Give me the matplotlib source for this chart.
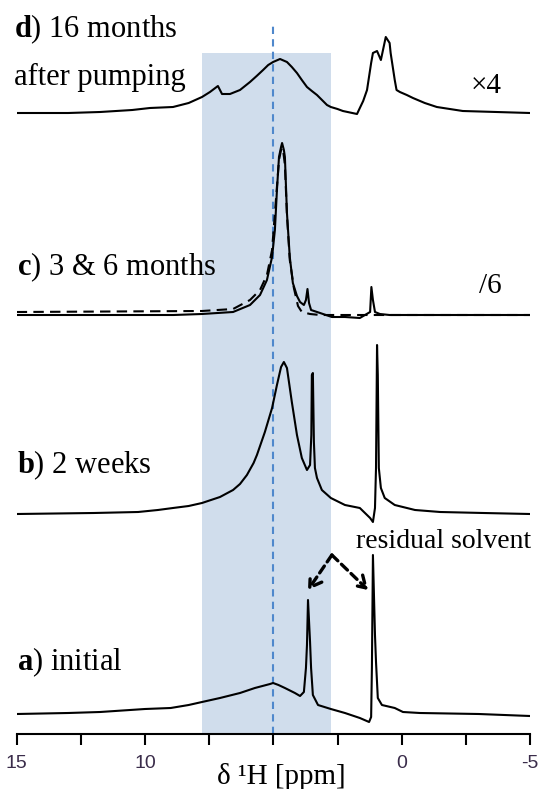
import numpy as np
from matplotlib import pyplot as plt

plt.rcParams['font.family'] = ['Liberation Serif', 'DejaVu Serif']
plt.rcParams['mathtext.fontset'] = 'custom'
plt.rcParams['mathtext.rm'] = 'Liberation Serif'
plt.rcParams['mathtext.bf'] = 'Liberation Serif:bold'

# spectra: chemical shift (ppm) and intensity (arb.)
a_ppm = [15.0, 13.0, 11.75, 10.0, 9.0, 8.3, 7.78, 7.08, 6.30, 5.72, 5.13, 5.01, 4.80, 4.55, 4.16,
         3.96, 3.81, 3.73, 3.69, 3.65, 3.57, 3.53, 3.46, 3.26, 2.76, 2.21, 1.63, 1.27, 1.19, 1.16,
         1.12, 1.04, 1.00, 0.93, 0.77, 0.27, -0.05, -0.71, -3.0, -5.0]
a_int = [-1, 0, 1, 4, 5, 8, 11, 15, 20, 25, 29, 30, 28, 25, 20,
         17, 21, 45, 68, 113, 71, 45, 18, 8, 4, 0, -5, -9, -4, 45,
         158, 78, 51, 15, 8, 5, 1, 0, -1, -3]

b_ppm = [15.0, 12.0, 10.27, 9.5, 8.91, 8.3, 7.78, 7.08, 6.57, 6.30, 6.03, 5.77, 5.64, 5.33, 5.05,
         4.86, 4.70, 4.59, 4.47, 4.28, 4.08, 3.89, 3.69, 3.57, 3.52, 3.50, 3.46, 3.42, 3.38, 3.30,
         3.11, 2.76, 2.21, 1.63, 1.23, 1.12, 1.04, 1.00, 0.96, 0.93, 0.89, 0.81, 0.66, 0.27, -0.52,
         -1.5, -3.19, -5.0]
b_int = [0, 1, 2, 4, 6, 8, 11, 17, 24, 30, 39, 51, 59, 82, 106,
         129, 147, 152, 146, 112, 79, 56, 44, 49, 79, 139, 141, 72, 46, 36,
         24, 16, 9, 6, -4, -8, 6, 46, 169, 139, 46, 26, 16, 9, 4,
         2, 1, 0]

c6_ppm = [15.0, 8.9, 7.78, 6.57, 5.91, 5.52, 5.25, 5.05, 4.94, 4.86, 4.78, 4.70, 4.66, 4.59, 4.55,
          4.47, 4.36, 4.24, 4.08, 3.96, 3.81, 3.73, 3.67, 3.61, 3.53, 3.18, 2.72, 2.21, 1.63, 1.23,
          1.18, 1.12, 1.04, 0.85, 0.47, -5.0]
c6_int = [0, 0, 1, 3, 10, 20, 35, 58, 85, 125, 158, 168, 172, 165, 158,
          102, 58, 32, 19, 13, 10, 15, 26, 12, 5, 2, -2, -2, -3, 3,
          28, 15, 3, 1, 0, 0]

c3_ppm = [15.0, 7.78, 6.57, 5.91, 5.52, 5.25, 5.05, 4.90, 4.78, 4.70, 4.63, 4.55, 4.47, 4.36, 4.20,
          4.04, 3.89, 3.57, 3.18, -5.0]
c3_int = [3, 4, 6, 15, 25, 40, 65, 115, 155, 165, 167, 150, 100, 55, 27,
          9, 3, 1, 0, 0]

d_ppm = [15.0, 13.0, 11.75, 10.5, 9.81, 8.91, 8.3, 7.78, 7.47, 7.16, 7.00, 6.69, 6.30, 5.91, 5.65,
         5.40, 5.20, 5.01, 4.74, 4.47, 4.28, 4.08, 3.89, 3.69, 3.50, 3.30, 2.91, 2.76, 2.50, 2.29,
         1.74, 1.63, 1.50, 1.35, 1.19, 1.12, 0.96, 0.81, 0.62, 0.47, 0.43, 0.27, 0.20, 0.07, -0.20,
         -0.44, -0.90, -1.37, -2.38, -5.0]
d_int = [0, 0, 1, 3, 5, 6, 10, 16, 21, 27, 19, 19, 23, 31, 37,
         43, 48, 51, 54, 51, 46, 40, 33, 26, 22, 18, 8, 6, 4, 2,
         -1, 5, 12, 23, 50, 60, 62, 53, 76, 70, 60, 33, 23, 21, 18,
         15, 10, 6, 2, 0]

offsets = {'a': 21, 'b': 220, 'c': 419, 'd': 621}
tick_pos = [15, 12.5, 10, 7.5, 5, 2.5, 0, -2.5, -5]
tick_lab = ['15', '', '10', '', '', '', '0', '', '-5']

fig = plt.figure(figsize=(5.41, 7.89), dpi=100)
ax = fig.add_axes([16.7 / 541, 55 / 789, (530 - 16.7) / 541, 734 / 789])

# highlighted region and reference line at 5 ppm
ax.fill_betweenx([0, 681], 7.78, 2.76, color='#d0ddec', lw=0, zorder=0)
ax.plot([5, 5], [0, 710], color='#4f88cc', lw=1.5, ls=(0, (3.5, 2.5)), zorder=1)

lw = 1.5
ax.plot(a_ppm, np.array(a_int) + offsets['a'], color='black', lw=lw)
ax.plot(b_ppm, np.array(b_int) + offsets['b'], color='black', lw=lw)
ax.plot(c3_ppm, np.array(c3_int) + offsets['c'], color='black', lw=lw, ls=(0, (5, 3)))
ax.plot(c6_ppm, np.array(c6_int) + offsets['c'], color='black', lw=lw)
ax.plot(d_ppm, np.array(d_int) + offsets['d'], color='black', lw=lw)

fs = 22
ax.text(15.1, 697, r'$\mathbf{d}$) 16 months', fontsize=fs, va='baseline')
ax.text(15.1, 649, 'after pumping', fontsize=fs, va='baseline')
ax.text(15.0, 459, r'$\mathbf{c}$) 3 & 6 months', fontsize=fs, va='baseline')
ax.text(15.0, 261, r'$\mathbf{b}$) 2 weeks', fontsize=fs, va='baseline')
ax.text(15.0, 64, r'$\mathbf{a}$) initial', fontsize=fs, va='baseline')

ax.text(-2.7, 641, '\u00d74', fontsize=21, va='baseline')
ax.text(-3.0, 441, '/6', fontsize=21, va='baseline')

ax.text(-1.65, 186, 'residual solvent', fontsize=20, va='baseline', ha='center')
for tip in [(3.65, 144), (1.31, 144)]:
    ax.annotate('', xy=tip, xytext=(2.72, 179),
                arrowprops=dict(arrowstyle='->, head_length=0.8, head_width=0.5',
                                lw=2.4, ls=(0, (2.5, 1.5)), color='black',
                                shrinkA=0, shrinkB=0))

ax.set_xlim(15, -5)
ax.set_ylim(0, 734)
for side in ['top', 'left', 'right']:
    ax.spines[side].set_visible(False)
ax.spines['bottom'].set_linewidth(1.5)
ax.set_yticks([])
ax.set_xticks(tick_pos)
ax.set_xticklabels(tick_lab, family='Liberation Sans', fontsize=14, color='#3a2c4a')
ax.tick_params(axis='x', length=8, width=1.5, pad=7)
ax.patch.set_alpha(0)

fig.text(281 / 541, 5 / 789, '\u03b4 \u00b9H [ppm]', fontsize=21, ha='center', va='baseline')

plt.savefig('out.png', dpi=100)
